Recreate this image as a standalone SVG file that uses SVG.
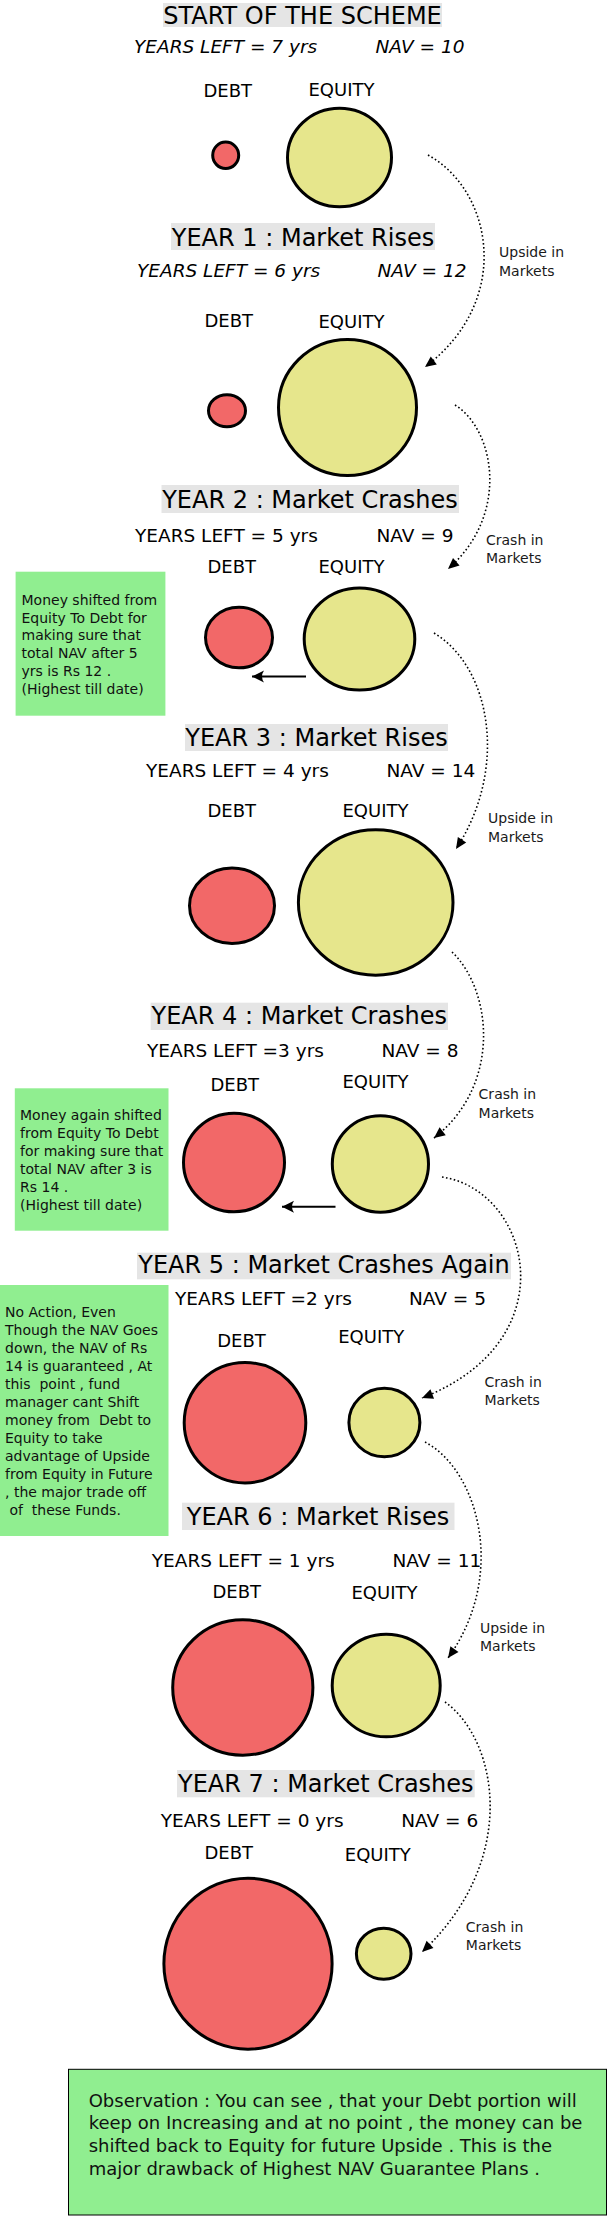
<svg xmlns="http://www.w3.org/2000/svg" width="608" height="2217" viewBox="0 0 608 2217">
<style>
text{font-family:"DejaVu Sans","Liberation Sans",sans-serif;fill:#000}
.title{font-size:24px;text-anchor:middle}
.tbg{fill:#e5e5e5}
.stat{font-size:18.5px}
.it{font-style:italic}
.lbl{font-size:18px}
.debt{fill:#f26868;stroke:#000;stroke-width:3}
.eq{fill:#e6e68c;stroke:#000;stroke-width:3}
.note{fill:#90ee90}
.nt{font-size:14px;fill:#111;white-space:pre}
.obs{font-size:18px;fill:#111}
.dot{fill:none;stroke:#000;stroke-width:1.6;stroke-dasharray:1.6 2.4;marker-end:url(#tri)}
.solid{fill:none;stroke:#000;stroke-width:2;marker-end:url(#arr2)}
.cl{font-size:14px;fill:#1a1a1a}
</style>
<defs>
<marker id="tri" markerUnits="userSpaceOnUse" markerWidth="12" markerHeight="10" refX="11" refY="5" orient="auto" overflow="visible">
<path d="M0,0 L11,5 L0,10 z" fill="#000"/>
</marker>
<marker id="arr2" markerUnits="userSpaceOnUse" markerWidth="14" markerHeight="14" refX="12" refY="6" orient="auto" overflow="visible">
<path d="M0,0 L12,6 L0,12 Q4,6 0,0 z" fill="#000"/>
</marker>
</defs>
<rect width="608" height="2217" fill="#fff"/>

<g id="start">
<rect class="tbg" x="163" y="3" width="279" height="24"/>
<text class="title" x="302.5" y="23.5">START OF THE SCHEME</text>
<text class="stat it" x="134" y="53.3">YEARS LEFT = 7 yrs</text>
<text class="stat it" x="375.5" y="53.3">NAV = 10</text>
<text class="lbl" x="203.5" y="97">DEBT</text>
<text class="lbl" x="308.5" y="96">EQUITY</text>
<ellipse class="debt" cx="225.7" cy="155.3" rx="13" ry="13.2"/>
<ellipse class="eq" cx="339.5" cy="157.5" rx="52" ry="49.3"/>
</g>

<g id="year1">
<rect class="tbg" x="171" y="223" width="264" height="27"/>
<text class="title" x="303" y="246">YEAR 1 : Market Rises</text>
<text class="stat it" x="137" y="277">YEARS LEFT = 6 yrs</text>
<text class="stat it" x="377.5" y="277">NAV = 12</text>
<text class="lbl" x="204.5" y="327">DEBT</text>
<text class="lbl" x="318.5" y="328">EQUITY</text>
<ellipse class="debt" cx="227" cy="410.8" rx="18.5" ry="16"/>
<ellipse class="eq" cx="347.5" cy="407.5" rx="69" ry="68"/>
</g>

<g id="year2">
<rect class="tbg" x="161.5" y="485" width="297.5" height="28"/>
<text class="title" x="310" y="507.7">YEAR 2 : Market Crashes</text>
<text class="stat" x="135" y="541.7">YEARS LEFT = 5 yrs</text>
<text class="stat" x="376.5" y="541.7">NAV = 9</text>
<text class="lbl" x="207.5" y="573">DEBT</text>
<text class="lbl" x="318.5" y="572.7">EQUITY</text>
<ellipse class="debt" cx="239" cy="637.5" rx="33.5" ry="30.3"/>
<ellipse class="eq" cx="359.5" cy="639" rx="55.3" ry="51"/>
</g>

<g id="note1">
<rect class="note" x="15.6" y="571.7" width="149.8" height="144"/>
<text class="nt" x="21.5" y="605">Money shifted from</text>
<text class="nt" x="21.5" y="622.7">Equity To Debt for</text>
<text class="nt" x="21.5" y="640.4">making sure that</text>
<text class="nt" x="21.5" y="658.1">total NAV after 5</text>
<text class="nt" x="21.5" y="675.8">yrs is Rs 12 .</text>
<text class="nt" x="21.5" y="693.5">(Highest till date)</text>
</g>

<g id="year3">
<rect class="tbg" x="185" y="724" width="263" height="27"/>
<text class="title" x="316.5" y="745.7">YEAR 3 : Market Rises</text>
<text class="stat" x="146" y="777">YEARS LEFT = 4 yrs</text>
<text class="stat" x="386.5" y="777">NAV = 14</text>
<text class="lbl" x="207.5" y="817">DEBT</text>
<text class="lbl" x="342.5" y="817">EQUITY</text>
<ellipse class="debt" cx="232" cy="905.8" rx="42.5" ry="37.7"/>
<ellipse class="eq" cx="375.7" cy="902.5" rx="77.3" ry="72.7"/>
</g>

<g id="year4">
<rect class="tbg" x="150.6" y="1002.7" width="297.4" height="27.3"/>
<text class="title" x="299.3" y="1024.3">YEAR 4 : Market Crashes</text>
<text class="stat" x="147" y="1057.3">YEARS LEFT =3 yrs</text>
<text class="stat" x="381.5" y="1057.3">NAV = 8</text>
<text class="lbl" x="210.5" y="1090.7">DEBT</text>
<text class="lbl" x="342.5" y="1088.3">EQUITY</text>
<ellipse class="debt" cx="234" cy="1162.5" rx="50.5" ry="49.3"/>
<ellipse class="eq" cx="380.4" cy="1164" rx="48.1" ry="48.3"/>
</g>

<g id="note2">
<rect class="note" x="14.8" y="1088.3" width="153.7" height="142.4"/>
<text class="nt" x="20" y="1120">Money again shifted</text>
<text class="nt" x="20" y="1137.9">from Equity To Debt</text>
<text class="nt" x="20" y="1155.8">for making sure that</text>
<text class="nt" x="20" y="1173.7">total NAV after 3 is</text>
<text class="nt" x="20" y="1191.6">Rs 14 .</text>
<text class="nt" x="20" y="1209.5">(Highest till date)</text>
</g>

<g id="year5">
<rect class="tbg" x="137" y="1252.7" width="374" height="26.6"/>
<text class="title" x="324" y="1273.3">YEAR 5 : Market Crashes Again</text>
<text class="stat" x="175" y="1305">YEARS LEFT =2 yrs</text>
<text class="stat" x="409" y="1305">NAV = 5</text>
<text class="lbl" x="217.2" y="1346.7">DEBT</text>
<text class="lbl" x="338.2" y="1343.3">EQUITY</text>
<ellipse class="debt" cx="245" cy="1422.7" rx="60.8" ry="60.2"/>
<ellipse class="eq" cx="384.4" cy="1422.5" rx="35.5" ry="34.3"/>
</g>

<g id="note3">
<rect class="note" x="0" y="1285" width="168.5" height="251"/>
<text class="nt" x="5" y="1316.7">No Action, Even</text>
<text class="nt" x="5" y="1334.7">Though the NAV Goes</text>
<text class="nt" x="5" y="1352.7">down, the NAV of Rs</text>
<text class="nt" x="5" y="1370.7">14 is guaranteed , At</text>
<text class="nt" x="5" y="1388.7">this  point , fund</text>
<text class="nt" x="5" y="1406.7">manager cant Shift</text>
<text class="nt" x="5" y="1424.7">money from  Debt to</text>
<text class="nt" x="5" y="1442.7">Equity to take</text>
<text class="nt" x="5" y="1460.7">advantage of Upside</text>
<text class="nt" x="5" y="1478.7">from Equity in Future</text>
<text class="nt" x="5" y="1496.7">, the major trade off</text>
<text class="nt" x="5" y="1514.7"> of  these Funds.</text>
</g>

<g id="year6">
<rect class="tbg" x="182" y="1502.7" width="272.5" height="27.3"/>
<text class="title" x="318" y="1525">YEAR 6 : Market Rises</text>
<text class="stat" x="151.8" y="1566.7">YEARS LEFT = 1 yrs</text>
<text class="stat" x="392.5" y="1566.7">NAV = 11</text>
<text class="lbl" x="212.5" y="1597.7">DEBT</text>
<text class="lbl" x="351.5" y="1599.3">EQUITY</text>
<ellipse class="debt" cx="242.8" cy="1687.5" rx="70.1" ry="67.7"/>
<ellipse class="eq" cx="386.2" cy="1685.5" rx="54" ry="51.3"/>
</g>

<g id="year7">
<rect class="tbg" x="177" y="1770" width="297.7" height="27.3"/>
<text class="title" x="325.8" y="1791.7">YEAR 7 : Market Crashes</text>
<text class="stat" x="160.7" y="1827.3">YEARS LEFT = 0 yrs</text>
<text class="stat" x="401.2" y="1827.3">NAV = 6</text>
<text class="lbl" x="204.5" y="1859.3">DEBT</text>
<text class="lbl" x="344.8" y="1860.7">EQUITY</text>
<ellipse class="debt" cx="248" cy="1963.7" rx="84.1" ry="85.5"/>
<ellipse class="eq" cx="383.7" cy="1953.7" rx="27.3" ry="25.5"/>
</g>

<g id="observation">
<rect x="68.5" y="2069.3" width="538" height="145.7" fill="#90ee90" stroke="#000" stroke-width="1"/>
<text class="obs" x="88.7" y="2106.7">Observation : You can see , that your Debt portion will</text>
<text class="obs" x="88.7" y="2129.4">keep on Increasing and at no point , the money can be</text>
<text class="obs" x="88.7" y="2152.1">shifted back to Equity for future Upside . This is the</text>
<text class="obs" x="88.7" y="2174.8">major drawback of Highest NAV Guarantee Plans .</text>
</g>

<g id="connectors">
<path class="dot" d="M428,155 C492,190 514,300 425,367"/>
<path class="dot" d="M455,405 C495,430 510,515 448,569"/>
<path class="dot" d="M434,633 C492,668 508,770 456,849"/>
<path class="dot" d="M452,952 C492,990 502,1085 434,1138"/>
<path class="dot" d="M442,1177 C530,1190 570,1340 422,1398"/>
<path class="dot" d="M425,1442 C478,1470 508,1575 448,1658"/>
<path class="dot" d="M445,1702 C498,1740 520,1860 422,1952"/>
<path class="solid" d="M306,676.5 L252,676.5"/>
<path class="solid" d="M335.5,1206.7 L282,1206.7"/>
<text class="cl" x="499" y="257">Upside in</text>
<text class="cl" x="499" y="275.5">Markets</text>
<text class="cl" x="486" y="545">Crash in</text>
<text class="cl" x="486" y="563">Markets</text>
<text class="cl" x="488" y="823">Upside in</text>
<text class="cl" x="488" y="841.5">Markets</text>
<text class="cl" x="478.6" y="1099.3">Crash in</text>
<text class="cl" x="478.6" y="1118">Markets</text>
<text class="cl" x="484.4" y="1386.7">Crash in</text>
<text class="cl" x="484.4" y="1404.5">Markets</text>
<text class="cl" x="480" y="1632.7">Upside in</text>
<text class="cl" x="480" y="1650.7">Markets</text>
<text class="cl" x="465.8" y="1932.3">Crash in</text>
<text class="cl" x="465.8" y="1950">Markets</text>
</g>
</svg>
